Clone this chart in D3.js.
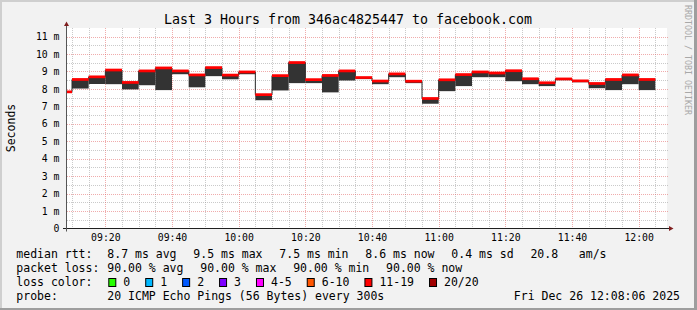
<!DOCTYPE html>
<html>
<head>
<meta charset="utf-8">
<script src="https://cdnjs.cloudflare.com/ajax/libs/d3/7.8.5/d3.min.js"></script>
<style>
body { margin: 0; background: #f2f2f2; }
svg { display: block; font-family: "DejaVu Sans Mono", monospace; }
.axisText text { font-family: "DejaVu Sans Mono", monospace; font-size: 9.8px; fill: #000; }
</style>
</head>
<body>
<div id="chart"></div>
<script>
// Chart data (5 minute steps, values in ms)
var stepTimes = ["09:05","09:10","09:15","09:20","09:25","09:30","09:35","09:40","09:45","09:50","09:55",
	"10:00","10:05","10:10","10:15","10:20","10:25","10:30","10:35","10:40","10:45","10:50","10:55",
	"11:00","11:05","11:10","11:15","11:20","11:25","11:30","11:35","11:40","11:45","11:50","11:55","12:00"];
var medianRtt = [7.83, 8.54, 8.69, 9.08, 8.37, 9.03, 9.20, 9.03, 8.80, 9.22, 8.79,
	8.97, 7.67, 8.76, 9.51, 8.53, 8.77, 9.03, 8.65, 8.45, 8.86, 8.44, 7.45,
	8.52, 8.82, 8.97, 8.91, 9.04, 8.58, 8.35, 8.57, 8.46, 8.31, 8.54, 8.80, 8.54];
var smokeLow = [7.78, 8.02, 8.28, 8.27, 7.97, 8.21, 7.93, 8.84, 8.09, 8.73, 8.55,
	8.84, 7.35, 7.91, 8.33, 8.33, 7.80, 8.48, 8.56, 8.27, 8.67, 8.33, 7.15,
	7.87, 8.16, 8.67, 8.67, 8.44, 8.27, 8.16, 8.50, 8.38, 8.04, 7.93, 8.27, 7.93];
var yTickValues = [0, 1, 2, 3, 4, 5, 6, 7, 8, 9, 10, 11];
var rttStats = ["8.7 ms avg", "9.5 ms max", "7.5 ms min", "8.6 ms now", "0.4 ms sd", "20.8   am/s"];
var lossStats = ["90.00 % avg", "90.00 % max", "90.00 % min", "90.00 % now"];
var lossLabels = ["0", "1", "2", "3", "4-5", "6-10", "11-19", "20/20"];
var lossColors = ["#26ff00", "#00b8ff", "#0059ff", "#7e00ff", "#ff00ff", "#ff5500", "#ff0000", "#a10000"];
var probeText = "20 ICMP Echo Pings (56 Bytes) every 300s";
var dateText = "Fri Dec 26 12:08:06 2025";

// Spacing
var W = 697, H = 310;
var plot = {left: 67, top: 28, width: 600, height: 200};
var charW = 6.92;
var parseT = d3.timeParse("%H:%M:%S");

var svg = d3.select("#chart").append("svg")
	.attr("width", W)
	.attr("height", H);

// Background and 3d frame
svg.append("rect").attr("width", W).attr("height", H).attr("fill", "#f2f2f2");
svg.append("path").attr("d", "M0,0H697V2H2V310H0Z").attr("fill", "#cfcfcf");
svg.append("path").attr("d", "M697,0V310H0V308H694V0Z").attr("fill", "#9e9e9e");

// Scales
var xScale = d3.scaleTime()
	.domain([parseT("09:08:30"), parseT("12:08:30")])
	.range([plot.left, plot.left + plot.width]);
var yScale = d3.scaleLinear()
	.domain([0, 11.46])
	.range([plot.top + plot.height + 0.5, plot.top + 0.5]);

function crisp(v) { return Math.round(v) + 0.5; }

// Canvas
svg.append("rect")
	.attr("x", plot.left).attr("y", plot.top)
	.attr("width", plot.width).attr("height", plot.height)
	.attr("fill", "#fff");

svg.append("clipPath").attr("id", "clip")
	.append("rect")
	.attr("x", plot.left).attr("y", plot.top)
	.attr("width", plot.width).attr("height", plot.height);

// Grid
var grid = svg.append("g");
var minorY = d3.range(0.5, 11.46, 1);
var minorX = d3.timeMinute.every(5).range(xScale.domain()[0], xScale.domain()[1])
	.filter(function(d) { return d.getMinutes() % 20 != 0; });
var majorX = d3.timeMinute.every(20).range(xScale.domain()[0], xScale.domain()[1]);
var majorY = yTickValues.filter(function(d) { return d > 0; });

function hLines(vals, color, cls) {
	grid.selectAll("." + cls).data(vals).enter().append("line")
		.attr("class", cls)
		.attr("x1", plot.left).attr("x2", plot.left + plot.width + 2)
		.attr("y1", function(d) { return crisp(yScale(d)); })
		.attr("y2", function(d) { return crisp(yScale(d)); })
		.attr("stroke", color)
		.attr("stroke-dasharray", "1,1");
}
function vLines(vals, color, cls) {
	grid.selectAll("." + cls).data(vals).enter().append("line")
		.attr("class", cls)
		.attr("y1", plot.top).attr("y2", plot.top + plot.height)
		.attr("x1", function(d) { return crisp(xScale(d)); })
		.attr("x2", function(d) { return crisp(xScale(d)); })
		.attr("stroke", color)
		.attr("stroke-dasharray", "1,1");
}
hLines(minorY, "rgba(150,150,150,0.5)", "minY");
vLines(minorX, "rgba(150,150,150,0.5)", "minX");
hLines(majorY, "rgba(225,90,90,0.5)", "majY");
vLines(majorX, "rgba(225,90,90,0.5)", "majX");

// Data steps
var steps = stepTimes.map(function(t, i) {
	var start = parseT(t + ":00");
	return {start: start, end: d3.timeMinute.offset(start, 5), median: medianRtt[i], low: smokeLow[i]};
});

var data = svg.append("g").attr("clip-path", "url(#clip)");

// Smoke (range of received pings)
data.selectAll(".smoke").data(steps).enter().append("rect")
	.attr("class", "smoke")
	.attr("x", function(d) { return xScale(d.start); })
	.attr("width", function(d) { return xScale(d.end) - xScale(d.start); })
	.attr("y", function(d) { return yScale(d.median); })
	.attr("height", function(d) { return yScale(d.low) - yScale(d.median); })
	.attr("fill", "#333");

// Median connector line
var stepLine = d3.line()
	.x(function(d) { return d.x; })
	.y(function(d) { return d.y; })
	.curve(d3.curveStepAfter);
var linePts = steps.map(function(d) { return {x: xScale(d.start), y: yScale(d.median)}; });
linePts.push({x: xScale(steps[steps.length - 1].end), y: yScale(steps[steps.length - 1].median)});
data.append("path")
	.attr("d", stepLine(linePts))
	.attr("fill", "none")
	.attr("stroke", "#2a2a2a")
	.attr("stroke-width", 1);

// Median band, colored by loss (90% loss -> 11-19)
data.selectAll(".median").data(steps).enter().append("rect")
	.attr("class", "median")
	.attr("x", function(d) { return xScale(d.start); })
	.attr("width", function(d) { return xScale(d.end) - xScale(d.start); })
	.attr("y", function(d) { return yScale(d.median + 0.078); })
	.attr("height", function(d) { return yScale(d.median - 0.078) - yScale(d.median + 0.078); })
	.attr("fill", lossColors[6]);

// Axes lines and arrows
var x0 = plot.left - 0.5, y0 = plot.top + plot.height + 0.5;
svg.append("line")
	.attr("x1", plot.left - 4).attr("x2", plot.left + plot.width + 3)
	.attr("y1", y0).attr("y2", y0)
	.attr("stroke", "#1f1f1f");
svg.append("line")
	.attr("x1", x0).attr("x2", x0)
	.attr("y1", y0 + 3).attr("y2", plot.top - 3)
	.attr("stroke", "#555");
svg.append("path")
	.attr("d", "M" + (plot.left + plot.width + 2) + "," + (y0 - 2.5) + "l4.5,2.5l-4.5,2.5Z")
	.attr("fill", "#801f1f");
svg.append("path")
	.attr("d", "M" + (x0 - 2.5) + "," + (plot.top - 2) + "l2.5,-4.5l2.5,4.5Z")
	.attr("fill", "#801f1f");

// X axis labels
svg.append("g")
	.attr("class", "axisText")
	.attr("transform", "translate(0," + y0 + ")")
	.call(d3.axisBottom(xScale).ticks(d3.timeMinute.every(20))
		.tickFormat(d3.timeFormat("%H:%M")).tickSize(0).tickPadding(6))
	.call(function(g) { g.select(".domain").remove(); });

// Y axis labels
svg.append("g")
	.attr("class", "axisText")
	.attr("transform", "translate(" + x0 + ",0)")
	.call(d3.axisLeft(yScale).tickValues(yTickValues)
		.tickFormat(function(d) { return d == 0 ? "0" : d + " m"; }).tickSize(0).tickPadding(7))
	.call(function(g) { g.select(".domain").remove(); });

// Title
svg.append("text")
	.attr("x", 348).attr("y", 24)
	.attr("text-anchor", "middle")
	.style("font-size", "13.3px")
	.text("Last 3 Hours from 346ac4825447 to facebook.com");

// Y axis title
svg.append("text")
	.attr("transform", "translate(15," + (plot.top + plot.height / 2) + ") rotate(-90)")
	.attr("text-anchor", "middle")
	.style("font-size", "11.5px")
	.text("Seconds");

// Watermark
svg.append("text")
	.attr("transform", "translate(685,5) rotate(90)")
	.style("font-size", "8.3px")
	.attr("fill", "#a8a8a8")
	.text("RRDTOOL / TOBI OETIKER");

// Legend
var legend = svg.append("g").style("font-size", "11.5px").style("white-space", "pre");
var rowY = [257.5, 271.5, 285.5, 299.5];
var legX = 16.3, valX = 107.3, gap = 16.8;

function legendRow(label, items, y) {
	legend.append("text").attr("x", legX).attr("y", y).text(label);
	var x = valX;
	items.forEach(function(t) {
		legend.append("text").attr("x", x).attr("y", y).attr("xml:space", "preserve").text(t);
		x += t.length * charW + gap;
	});
}
legendRow("median rtt:", rttStats, rowY[0]);
legendRow("packet loss:", lossStats, rowY[1]);

legend.append("text").attr("x", legX).attr("y", rowY[2]).text("loss color:");
var bx = valX + 1;
lossLabels.forEach(function(l, i) {
	legend.append("rect")
		.attr("x", bx + 0.5).attr("y", rowY[2] - 7)
		.attr("width", 7).attr("height", 8)
		.attr("fill", lossColors[i])
		.attr("stroke", "#000");
	legend.append("text").attr("x", bx + 15).attr("y", rowY[2]).text(l);
	bx += 15 + l.length * charW + 15;
});

legend.append("text").attr("x", legX).attr("y", rowY[3]).text("probe:");
legend.append("text").attr("x", valX).attr("y", rowY[3]).text(probeText);
legend.append("text").attr("x", 680).attr("y", rowY[3]).attr("text-anchor", "end").text(dateText);
</script>
</body>
</html>
